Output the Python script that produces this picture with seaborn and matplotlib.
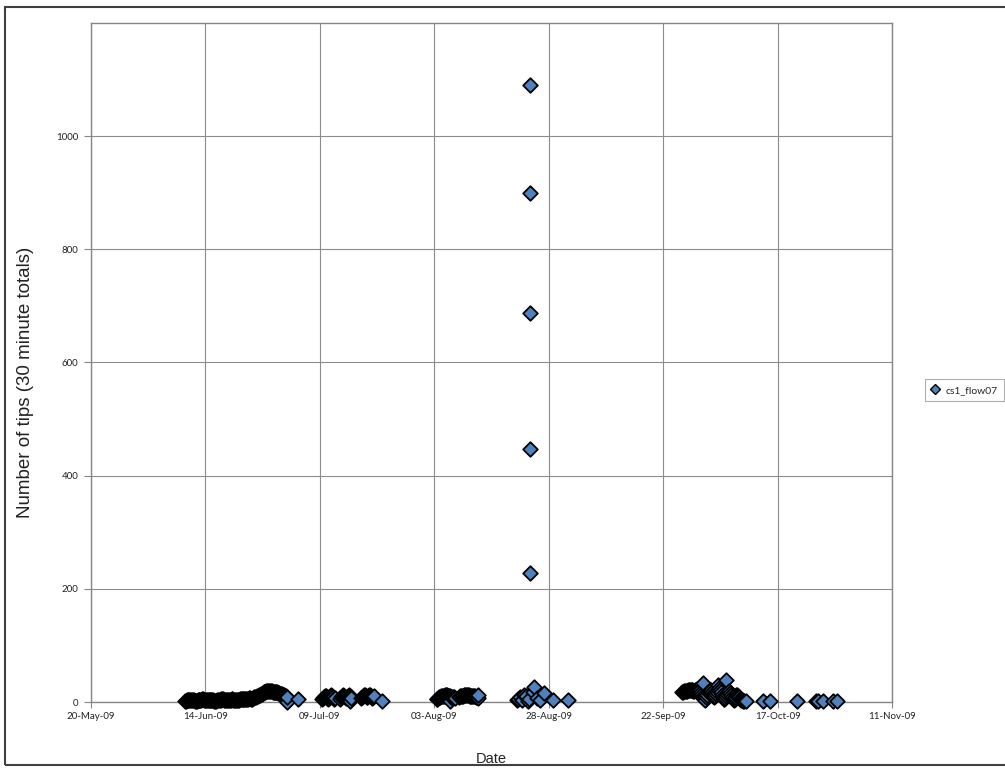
import numpy as np
import pandas as pd
import matplotlib
matplotlib.use("Agg")
import matplotlib.pyplot as plt
from matplotlib.patches import Rectangle
from matplotlib.lines import Line2D
import seaborn as sns

# ---------------- data ----------------
ORIGIN = pd.Timestamp("2009-05-20")
SERIES_NAME = "cs1_flow07"
X_LABEL = "Date"
Y_LABEL = "Number of tips (30 minute totals)"
STEP_DAYS = 0.2  # sampling step of the dense stretches (days)

# dense stretches: start (days after ORIGIN) and consecutive values
dense_jun_start = 20.5
dense_jun_vals = [2, 2, 3, 3, 3, 4, 4, 4, 3, 3, 3, 2, 2, 2, 3, 3, 3, 4, 4, 5,
                  5, 4, 4, 3, 3, 3, 3, 4, 4, 4, 3, 3, 2, 2, 2, 3, 3, 4, 4, 4,
                  5, 5, 5, 4, 4, 3, 3, 3, 4, 4, 4, 5, 5, 4, 4, 4, 3, 3, 4, 4,
                  5, 5, 5, 6, 6, 5, 5, 6, 6, 6, 7, 7, 6, 6, 7, 7, 8, 8,
                  9, 10, 11, 12, 13, 14, 15, 16, 17, 18, 18, 19,
                  19, 19, 20, 20, 19, 19, 18, 18, 18, 17, 17, 17, 16, 16, 15, 15,
                  14, 13, 12, 11, 10, 9, 8]
dense_jul1_start = 50.5
dense_jul1_vals = [5, 7, 9, 11, 10, 8, 6, 7, 9, 11, 12, 10, 8, 6, 7]
dense_jul2_start = 54.5
dense_jul2_vals = [6, 8, 10, 12, 11, 9, 7, 8, 10, 12, 10, 8, 7]
dense_jul3_start = 59.0
dense_jul3_vals = [7, 9, 11, 13, 12, 10, 8, 9, 11, 13, 12, 10, 8, 9, 10]
dense_aug1_start = 75.5
dense_aug1_vals = [5, 6, 7, 8, 9, 10, 10, 11, 11, 12, 12, 12, 11, 11, 10, 10,
                   9, 9, 8, 8, 7]
dense_aug2_start = 80.5
dense_aug2_vals = [9, 10, 10, 11, 11, 12, 12, 13, 13, 12, 12, 11, 11, 10, 10,
                   11, 11, 10, 9, 8, 7]
dense_sep_start = 129.2
dense_sep_vals = [18, 18, 19, 19, 20, 20, 21, 21, 22, 22, 21, 21, 20, 20, 21,
                  22, 23, 23, 22, 21,
                  18, 14, 10, 7, 5, 6, 9, 13, 17, 20, 22, 21, 18, 14, 10,
                  8, 10, 14, 18, 22,
                  24, 22, 18, 13, 9, 6, 5, 7, 11, 15, 18, 19, 16, 12, 8,
                  5, 4, 6, 9, 12,
                  13, 11, 8, 6, 4, 3, 2, 2]

# isolated readings: days after ORIGIN and values
sparse_days = [42.8, 45.2,
               56.6, 61.4, 63.6,
               78.5, 84.6,
               93.0, 93.3, 93.8, 94.2, 94.6, 95.0, 95.5, 95.8,
               96.0, 96.0, 96.0, 96.0, 96.0,
               96.5, 96.7, 97.5, 98.2, 98.9, 101.0, 104.3,
               133.8, 134.2, 137.0, 138.8, 143.0,
               146.9, 148.4, 154.3, 158.3, 158.9, 160.0, 162.2, 163.0]
sparse_vals = [0, 5,
               1, 7, 1,
               1, 12,
               3, 5, 8, 4, 12, 10, 2, 6,
               228, 448, 688, 900, 1090,
               18, 26, 7, 4, 16, 3, 3,
               33, 4, 30, 39, 1,
               1, 1, 1, 1, 1, 1, 1, 1]

x_tick_labels = ["20-May-09", "14-Jun-09", "09-Jul-09", "03-Aug-09",
                 "28-Aug-09", "22-Sep-09", "17-Oct-09", "11-Nov-09"]
y_ticks = [0, 200, 400, 600, 800, 1000]
y_max = 1200

# ---------------- build table ----------------
def dense(start, vals):
    days = start + STEP_DAYS * np.arange(len(vals))
    return pd.DataFrame({"day": days, "tips": vals})

frames = [dense(dense_jun_start, dense_jun_vals),
          dense(dense_jul1_start, dense_jul1_vals),
          dense(dense_jul2_start, dense_jul2_vals),
          dense(dense_jul3_start, dense_jul3_vals),
          dense(dense_aug1_start, dense_aug1_vals),
          dense(dense_aug2_start, dense_aug2_vals),
          dense(dense_sep_start, dense_sep_vals),
          pd.DataFrame({"day": sparse_days, "tips": sparse_vals})]
df = pd.concat(frames, ignore_index=True).sort_values("day", kind="stable")
df["date"] = ORIGIN + pd.to_timedelta(df["day"], unit="D")

# ---------------- plot ----------------
sns.set_style("white")
plt.rcParams["font.family"] = ["Liberation Sans", "DejaVu Sans"]

fig = plt.figure(figsize=(10.05, 7.71), dpi=100)
ax = fig.add_axes([91 / 1005, 1 - 702 / 771, (892 - 91) / 1005, (702 - 23) / 771])

FILL = "#4F81BD"
sns.scatterplot(data=df, x="date", y="tips", ax=ax, marker="D", s=55,
                color=FILL, edgecolor="black", linewidth=1.3, legend=False,
                zorder=3, clip_on=False)

tick_dates = [pd.to_datetime(t, format="%d-%b-%y") for t in x_tick_labels]
ax.set_xlim(tick_dates[0], tick_dates[-1])
ax.set_xticks(tick_dates)
ax.set_xticklabels(x_tick_labels)
ax.set_ylim(0, y_max)
ax.set_yticks(y_ticks)
ax.set_yticklabels([str(v) for v in y_ticks])

for lbl in ax.get_xticklabels() + ax.get_yticklabels():
    lbl.set_family(["Lato", "DejaVu Sans"])
    lbl.set_fontsize(7)
    lbl.set_color("#222222")

ax.grid(True, color="#8c8c8c", linewidth=0.8, zorder=0)
ax.set_axisbelow(True)
for sp in ax.spines.values():
    sp.set_color("#868686")
    sp.set_linewidth(1.0)
ax.tick_params(axis="y", length=5, width=0.8, color="#868686", pad=4, left=True)
ax.tick_params(axis="x", length=4, width=0.8, color="#868686", pad=3, bottom=True)

ax.set_xlabel(X_LABEL, fontsize=10.5, color="#222222")
ax.set_ylabel(Y_LABEL, fontsize=13.5, color="#222222")
ax.xaxis.set_label_coords(0.5, -0.074)
ax.yaxis.set_label_coords(-0.071, 0.47)

handle = Line2D([], [], linestyle="none", marker="D", markersize=5.5,
                markerfacecolor=FILL, markeredgecolor="black", markeredgewidth=1.0)
leg = fig.legend([handle], [SERIES_NAME], loc="center left",
                 bbox_to_anchor=(925 / 1005, 1 - 390 / 771), frameon=True,
                 fancybox=False, prop={"family": ["Lato", "DejaVu Sans"], "size": 7.5},
                 handlelength=0.8, handletextpad=0.6, borderpad=0.6,
                 borderaxespad=0)
leg.get_frame().set_edgecolor("#9a9a9a")
leg.get_frame().set_linewidth(0.8)

fig.patches.append(Rectangle((5 / 1005, 1 - 765 / 771), 1.05, (765 - 7) / 771,
                             transform=fig.transFigure, fill=False,
                             edgecolor="#404040", linewidth=1.5))

fig.savefig("out.png", dpi=100)
